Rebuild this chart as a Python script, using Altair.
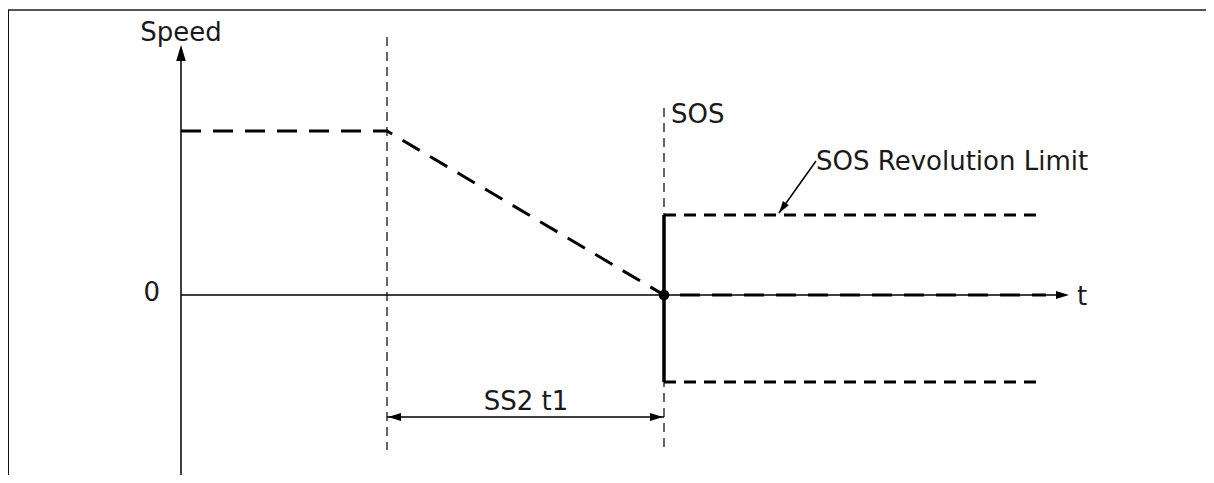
import altair as alt
import pandas as pd

# ---- diagram values (t = time units, s = speed units; origin where axes cross) ----
# speed profile: constant, SS2 ramp down, then held at zero
curve_t = [0, 206, 483, 865]
curve_s = [164, 164, 0, 0]

# guide times
t_ss2 = 206
t_sos = 483
guide_top = [258, 187]
guide_bottom = -155

# SOS revolution limits
limit_t = [483, 863]
limit_hi = 80
limit_lo = -87

# axes extents
t_axis_end = 888
s_axis_top = 250
s_axis_bottom = -185

# dimension line
dim_s = -122

# annotation leader
lead_t = [635, 598]
lead_s = [134, 82]

# labels
labels_center = ["Speed", "SS2 t1"]
labels_center_t = [0, 345]
labels_center_s = [254, -115]
labels_left = ["SOS", "SOS Revolution Limit", "t"]
labels_left_t = [490, 635, 896]
labels_left_s = [172, 125, -10]
labels_right = ["0"]
labels_right_t = [-21]
labels_right_s = [-6]

# frame
frame_left_t = -173
frame_top_s = 285
frame_bottom_s = -180

XD = [-173, 1025]
YD = [-180, 287]
W, H = 1198, 467

xs = alt.Scale(domain=XD, nice=False, zero=False)
ys = alt.Scale(domain=YD, nice=False, zero=False)


def seg_df(rows):
    return pd.DataFrame(rows, columns=["t", "s", "t2", "s2"])


def rules(df, width, color="black", dash=None):
    kw = dict(strokeWidth=width, color=color, strokeCap="butt")
    if dash:
        kw["strokeDash"] = dash
    return alt.Chart(df).mark_rule(**kw).encode(
        x=alt.X("t:Q", scale=xs, axis=None),
        x2="t2:Q",
        y=alt.Y("s:Q", scale=ys, axis=None),
        y2="s2:Q",
    )


frame_top = rules(seg_df([[frame_left_t, frame_top_s, XD[1], frame_top_s]]), 2.2, color="#555555")
frame_left = rules(seg_df([[frame_left_t, frame_top_s, frame_left_t, frame_bottom_s]]), 2, color="#111111")

axes = rules(
    seg_df([
        [0, s_axis_bottom, 0, s_axis_top - 4],
        [0, 0, t_axis_end - 4, 0],
        [t_ss2, dim_s, t_sos, dim_s],
        [lead_t[0], lead_s[0], lead_t[1], lead_s[1]],
    ]),
    1.5,
)

guides = rules(
    seg_df([
        [t_ss2, guide_top[0], t_ss2, guide_bottom],
        [t_sos, guide_top[1], t_sos, guide_bottom],
    ]),
    1.2,
    dash=[9, 6],
)

limits = rules(
    seg_df([
        [limit_t[0], limit_hi, limit_t[1], limit_hi],
        [limit_t[0], limit_lo, limit_t[1], limit_lo],
    ]),
    3,
    dash=[12, 8],
)

sos_bar = rules(seg_df([[t_sos, limit_hi, t_sos, limit_lo]]), 3.5)

curve_df = pd.DataFrame({"t": curve_t, "s": curve_s, "i": list(range(len(curve_t)))})
curve = alt.Chart(curve_df).mark_line(
    color="black", strokeWidth=3, strokeDash=[20, 12], strokeCap="butt"
).encode(
    x=alt.X("t:Q", scale=xs, axis=None),
    y=alt.Y("s:Q", scale=ys, axis=None),
    order="i:Q",
)

dot = alt.Chart(pd.DataFrame({"t": [t_sos], "s": [0]})).mark_circle(
    color="black", opacity=1, size=115
).encode(
    x=alt.X("t:Q", scale=xs, axis=None),
    y=alt.Y("s:Q", scale=ys, axis=None),
)

arrow_df = pd.DataFrame({
    "t": [0, t_axis_end, t_ss2 + 1, t_sos - 1, lead_t[1]],
    "s": [s_axis_top, 0, dim_s, dim_s, lead_s[1]],
    "angle": [0, 90, 270, 90, 215],
    "size": [256, 169, 169, 169, 144],
})
arrows = alt.Chart(arrow_df).mark_point(
    shape="M0,0L0.6,2L-0.6,2Z", filled=True, color="black", opacity=1, strokeWidth=0
).encode(
    x=alt.X("t:Q", scale=xs, axis=None),
    y=alt.Y("s:Q", scale=ys, axis=None),
    angle=alt.Angle("angle:Q", scale=None),
    size=alt.Size("size:Q", scale=None),
)


def text_layer(labels, ts, ss, align):
    df = pd.DataFrame({"t": ts, "s": ss, "label": labels})
    return alt.Chart(df).mark_text(
        align=align, baseline="alphabetic", font="DejaVu Sans", fontSize=26, color="#1a1a1a"
    ).encode(
        x=alt.X("t:Q", scale=xs, axis=None),
        y=alt.Y("s:Q", scale=ys, axis=None),
        text="label:N",
    )


texts = (
    text_layer(labels_center, labels_center_t, labels_center_s, "center")
    + text_layer(labels_left, labels_left_t, labels_left_s, "left")
    + text_layer(labels_right, labels_right_t, labels_right_s, "right")
)

chart = alt.layer(
    frame_top, frame_left, guides, axes, limits, curve, sos_bar, dot, arrows, texts
).properties(
    width=W, height=H, autosize=alt.AutoSizeParams(type="none"), padding=0,
    background="white",
).configure_view(stroke=None)

chart.save("out.html", embed_options={"renderer": "svg", "actions": False})
